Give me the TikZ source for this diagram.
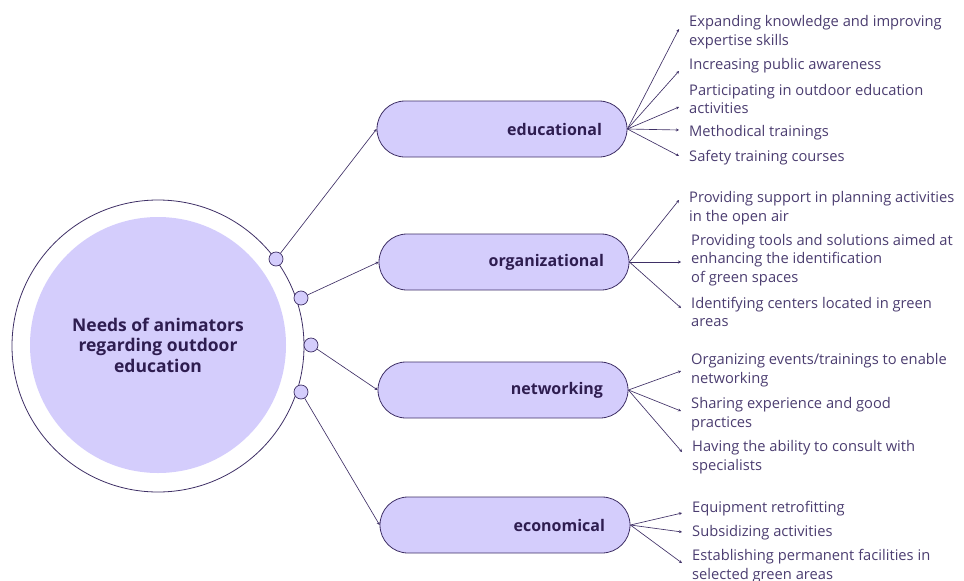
\documentclass[tikz,border=0pt]{standalone}
\usepackage{fontspec}
\setmainfont{Open Sans}
\usetikzlibrary{arrows.meta,positioning}

\definecolor{lavender}{HTML}{D4CDFC}
\definecolor{plum}{HTML}{3F3066}
\definecolor{inkplum}{HTML}{2E1D50}
\definecolor{itemplum}{HTML}{4B3D70}

\tikzset{
	ring/.style={circle, draw=plum, line width=0.8pt, minimum size=292pt, inner sep=0pt},
	hub/.style={circle, fill=lavender, minimum size=256pt, inner sep=0pt, align=center,
		font=\bfseries\fontsize{17.5}{20.5}\selectfont, text=inkplum},
	knob/.style={circle, draw=plum, fill=lavender, line width=0.7pt, minimum size=14pt, inner sep=0pt},
	pill/.style={draw=plum, fill=lavender, line width=0.8pt, rounded corners=28pt,
		minimum width=250pt, minimum height=56pt, text width=200pt, inner xsep=25pt,
		align=right, font=\bfseries\fontsize{16}{17}\selectfont, text=inkplum},
	item/.style={anchor=west, align=left, inner sep=0pt,
		font=\fontsize{14.7}{18.5}\selectfont, text=itemplum},
	link/.style={draw=plum, line width=0.65pt, -{Stealth[length=3pt,width=3pt]}},
}

\begin{document}
\begin{tikzpicture}[x=1pt,y=-1pt]
	\useasboundingbox (0,0) rectangle (964,581);

	% central circle
	\node[ring] (ring) at (158,346) {};
	\node[hub] (hub) at (158,345) {Needs of animators\\regarding outdoor\\education};

	\node[knob] (k1) at (276,259) {};
	\node[knob] (k2) at (301,298) {};
	\node[knob] (k3) at (311,345) {};
	\node[knob] (k4) at (301,392) {};

	% categories
	\node[pill] (educ) at (502,129) {educational};
	\node[pill] (orga) at (504,262) {organizational};
	\node[pill] (netw) at (503,390) {networking};
	\node[pill] (econ) at (505,525) {economical};

	\foreach \k/\p in {k1/educ, k2/orga, k3/netw, k4/econ}
		\draw[link] (\k) -- (\p.west);

	% needs
	\node[item] (e1) at (689,32) {Expanding knowledge and improving\\expertise skills};
	\node[item] (e2) at (689,66) {Increasing public awareness};
	\node[item] (e3) at (689,99) {Participating in outdoor education\\activities};
	\node[item] (e4) at (689,133) {Methodical trainings};
	\node[item] (e5) at (689,158) {Safety training courses};

	\node[item] (o1) at (689,208) {Providing support in planning activities\\in the open air};
	\node[item] (o2) at (691,260) {Providing tools and solutions aimed at\\enhancing the identification\\of green spaces};
	\node[item] (o3) at (691,312) {Identifying centers located in green\\areas};

	\node[item] (n1) at (691,370) {Organizing events/trainings to enable\\networking};
	\node[item] (n2) at (691,414) {Sharing experience and good\\practices};
	\node[item] (n3) at (692,457) {Having the ability to consult with\\specialists};

	\node[item] (c1) at (692,509) {Equipment retrofitting};
	\node[item] (c2) at (692,533) {Subsidizing activities};
	\node[item] (c3) at (692,566) {Establishing permanent facilities in\\selected green areas};

	\foreach \p/\i/\dy in {educ/e1/3, educ/e2/-5, educ/e3/-8, educ/e4/3, educ/e5/2,
		orga/o1/8, orga/o2/-2, orga/o3/4,
		netw/n1/-1, netw/n2/3, netw/n3/5,
		econ/c1/-4, econ/c2/1, econ/c3/3}
		\draw[link] (\p.east) -- ([xshift=-10pt,yshift=\dy pt]\i.west);
\end{tikzpicture}
\end{document}
